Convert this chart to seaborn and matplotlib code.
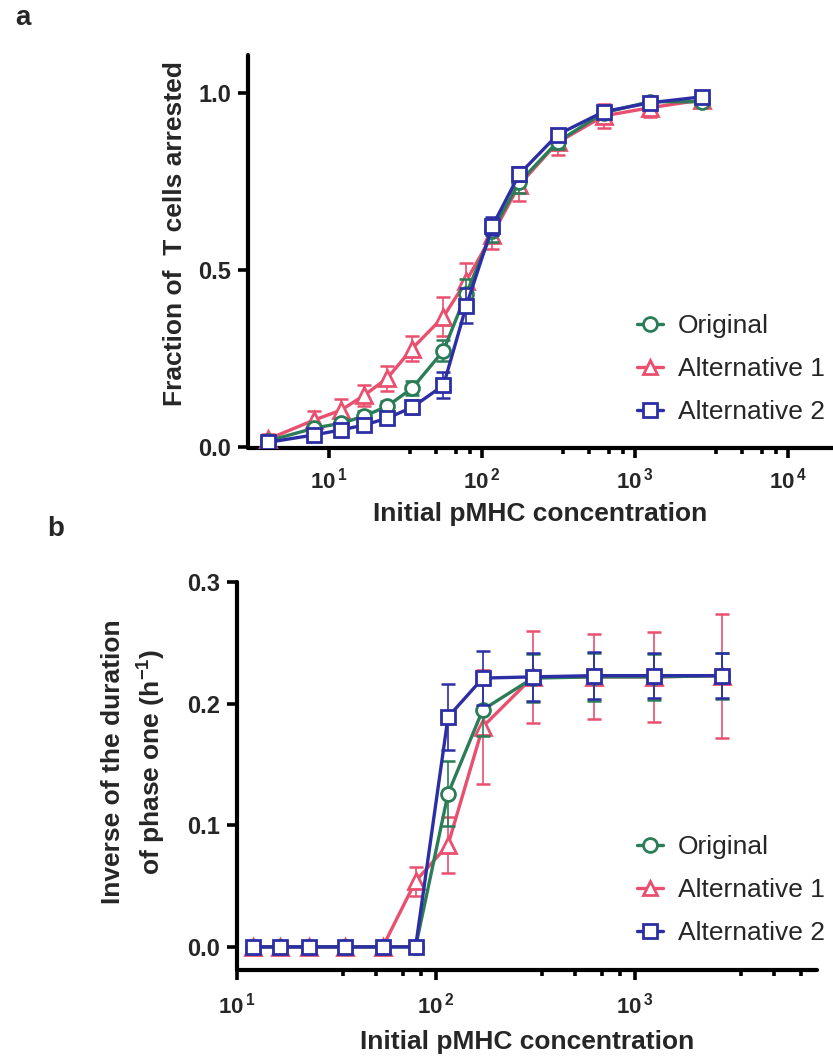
import numpy as np
import pandas as pd
import matplotlib
matplotlib.use("Agg")
import matplotlib.pyplot as plt
from matplotlib.ticker import FixedLocator, FuncFormatter, NullFormatter
from matplotlib.lines import Line2D
import seaborn as sns

# ---- data ---------------------------------------------------------------
# panel a: fraction of T cells arrested vs initial pMHC concentration
conc_a = [4, 8, 12, 17, 24, 35, 56, 79, 117, 175, 312, 625, 1250, 2750]
orig_a = [0.017, 0.053, 0.067, 0.087, 0.115, 0.166, 0.272, 0.433, 0.610, 0.747, 0.862, 0.944, 0.975, 0.975]
alt1_a = [0.022, 0.076, 0.104, 0.146, 0.194, 0.278, 0.368, 0.469, 0.600, 0.740, 0.860, 0.935, 0.958, 0.980]
alt2_a = [0.013, 0.034, 0.048, 0.062, 0.081, 0.112, 0.174, 0.399, 0.624, 0.770, 0.882, 0.947, 0.972, 0.989]
orig_a_err = [0.010, 0.010, 0.012, 0.015, 0.015, 0.020, 0.030, 0.040, 0.030, 0.030, 0.020, 0.015, 0.010, 0.010]
alt1_a_err = [0.015, 0.025, 0.030, 0.030, 0.035, 0.035, 0.055, 0.050, 0.040, 0.045, 0.035, 0.035, 0.025, 0.010]
alt2_a_err = [0.010, 0.010, 0.010, 0.012, 0.015, 0.020, 0.037, 0.050, 0.025, 0.020, 0.015, 0.012, 0.010, 0.010]

# panel b: inverse of the duration of phase one
conc_b = [12, 16.5, 23, 35, 54, 79, 115, 172, 307, 622, 1245, 2750]
orig_b = [0, 0, 0, 0, 0, 0, 0.126, 0.195, 0.221, 0.222, 0.222, 0.223]
alt1_b = [0, 0, 0, 0, 0, 0.054, 0.084, 0.181, 0.222, 0.222, 0.222, 0.223]
alt2_b = [0, 0, 0, 0, 0, 0, 0.189, 0.221, 0.222, 0.223, 0.223, 0.223]
orig_b_err = [0, 0, 0, 0, 0, 0, 0.027, 0.022, 0.020, 0.020, 0.019, 0.019]
alt1_b_err = [0, 0, 0, 0, 0, 0.012, 0.023, 0.047, 0.038, 0.035, 0.037, 0.051]
alt2_b_err = [0, 0, 0, 0, 0, 0, 0.027, 0.022, 0.0195, 0.0195, 0.0185, 0.0185]

series_names = ["Original", "Alternative 1", "Alternative 2"]

# ---- style --------------------------------------------------------------
sns.set_style("ticks")
plt.rcParams["font.family"] = ["Liberation Sans", "DejaVu Sans"]
plt.rcParams["font.weight"] = "bold"
plt.rcParams["mathtext.fontset"] = "custom"
plt.rcParams["mathtext.rm"] = "Liberation Sans:bold"
plt.rcParams["mathtext.bf"] = "Liberation Sans:bold"
plt.rcParams["mathtext.it"] = "Liberation Sans:bold:italic"
plt.rcParams["mathtext.default"] = "rm"

colors = {"Original": "#2b7d58", "Alternative 1": "#e9506f", "Alternative 2": "#2c2fa3"}
markers = {"Original": "o", "Alternative 1": "^", "Alternative 2": "s"}
draw_order = ["Alternative 1", "Original", "Alternative 2"]

fig = plt.figure(figsize=(8.33, 10.63), dpi=100)
W, H = 833, 1063
ax_a = fig.add_axes([248 / W, 1 - 448 / H, (833 - 248) / W, (448 - 55) / H])
ax_b = fig.add_axes([237 / W, 1 - 970 / H, (817 - 237) / W, (970 - 582) / H])


def long_frame(conc, vals, errs):
    rows = []
    for name, v, e in zip(series_names, vals, errs):
        for c, y, s in zip(conc, v, e):
            rows.append({"conc": c, "value": y, "err": s, "model": name})
    return pd.DataFrame(rows)


df_a = long_frame(conc_a, [orig_a, alt1_a, alt2_a], [orig_a_err, alt1_a_err, alt2_a_err])
df_b = long_frame(conc_b, [orig_b, alt1_b, alt2_b], [orig_b_err, alt1_b_err, alt2_b_err])


def draw_panel(ax, df):
    for k, name in enumerate(draw_order):
        sub = df[df["model"] == name]
        col = colors[name]
        ax.errorbar(sub["conc"], sub["value"], yerr=sub["err"], fmt="none",
                    ecolor=col, elinewidth=1.2, capsize=5, capthick=1.8,
                    zorder=2 + 2 * k)
        sns.lineplot(data=sub, x="conc", y="value", ax=ax, color=col,
                     marker=markers[name], markersize=10 if name != "Alternative 1" else 11,
                     markerfacecolor="white", markeredgecolor=col,
                     markeredgewidth=2.0, linewidth=2.4, errorbar=None,
                     legend=False, zorder=3 + 2 * k)


def style_axis(ax, xlim, ylim, yticks, decades, xpad):
    ax.set_xscale("log")
    ax.set_xlim(*xlim)
    ax.set_ylim(*ylim)
    for s in ["top", "right"]:
        ax.spines[s].set_visible(False)
    for s in ["left", "bottom"]:
        ax.spines[s].set_linewidth(3.0)
        ax.spines[s].set_color("black")
        ax.spines[s].set_capstyle("round")
    ax.set_yticks(yticks)
    ax.yaxis.set_major_formatter(FuncFormatter(lambda v, p: f"{v:.1f}"))
    ax.xaxis.set_major_locator(FixedLocator([10.0 ** d for d in decades]))
    ax.xaxis.set_major_formatter(FuncFormatter(
        lambda v, p: r"$\mathrm{10^{\,%d}}$" % int(round(np.log10(v)))))
    minor = [s * 10.0 ** d for d in decades for s in (3.4, 5.0, 6.8, 8.4)]
    minor = [m for m in minor if xlim[0] < m < xlim[1]]
    ax.xaxis.set_minor_locator(FixedLocator(minor))
    ax.xaxis.set_minor_formatter(NullFormatter())
    ax.tick_params(axis="both", which="major", length=7, width=2.6, color="black")
    ax.tick_params(axis="x", which="major", pad=xpad, labelsize=16)
    ax.tick_params(axis="y", which="major", pad=5, labelsize=17)
    ax.tick_params(axis="x", which="minor", length=4, width=2.6, color="black")
    ax.tick_params(axis="y", which="minor", length=0)
    for lab in ax.get_xticklabels() + ax.get_yticklabels():
        lab.set_fontweight("bold")
    ax.grid(False)
    ax.set_facecolor("white")


draw_panel(ax_a, df_a)
draw_panel(ax_b, df_b)

style_axis(ax_a, (10 ** 0.4706, 10 ** 4.294), (-0.003, 1.107), [0.0, 0.5, 1.0], [1, 2, 3, 4], 7)
style_axis(ax_b, (10.0, 10 ** 3.915), (-0.019, 0.3), [0.0, 0.1, 0.2, 0.3], [1, 2, 3], 9)

label_kw = dict(fontsize=19, fontweight="bold")
ax_a.set_xlabel("Initial pMHC concentration", **label_kw)
ax_a.set_ylabel("Fraction of  T cells arrested", **label_kw)
ax_b.set_xlabel("Initial pMHC concentration", **label_kw)
ax_b.set_ylabel("Inverse of the duration\nof phase one (h$^{-1}$)",
                linespacing=1.45, **label_kw)
ax_a.xaxis.set_label_coords(0.5, -0.138)
ax_a.yaxis.set_label_coords(-0.104, 0.545)
ax_b.xaxis.set_label_coords(0.5, -0.154)
ax_b.yaxis.set_label_coords(-0.119, 0.536)

# legends
handles = [Line2D([], [], color=colors[n], marker=markers[n], markersize=10,
                  markerfacecolor="white", markeredgecolor=colors[n],
                  markeredgewidth=2.0, linewidth=2.4) for n in series_names]
leg_kw = dict(frameon=False, fontsize=19, handlelength=1.0, handletextpad=0.55,
              borderpad=0, borderaxespad=0, labelspacing=0.72,
              loc="center left", bbox_transform=fig.transFigure)
leg_a = ax_a.legend(handles, series_names, bbox_to_anchor=(637 / W, 1 - 369 / H), **leg_kw)
leg_b = ax_b.legend(handles, series_names, bbox_to_anchor=(637 / W, 1 - 890 / H), **leg_kw)
for leg in (leg_a, leg_b):
    for t in leg.get_texts():
        t.set_fontweight("normal")

fig.text(15 / W, 1 - 18 / H, "a", fontsize=20, fontweight="bold", va="center", ha="left")
fig.text(47 / W, 1 - 529 / H, "b", fontsize=20, fontweight="bold", va="center", ha="left")

fig.savefig("out.png", dpi=100, facecolor="white")
